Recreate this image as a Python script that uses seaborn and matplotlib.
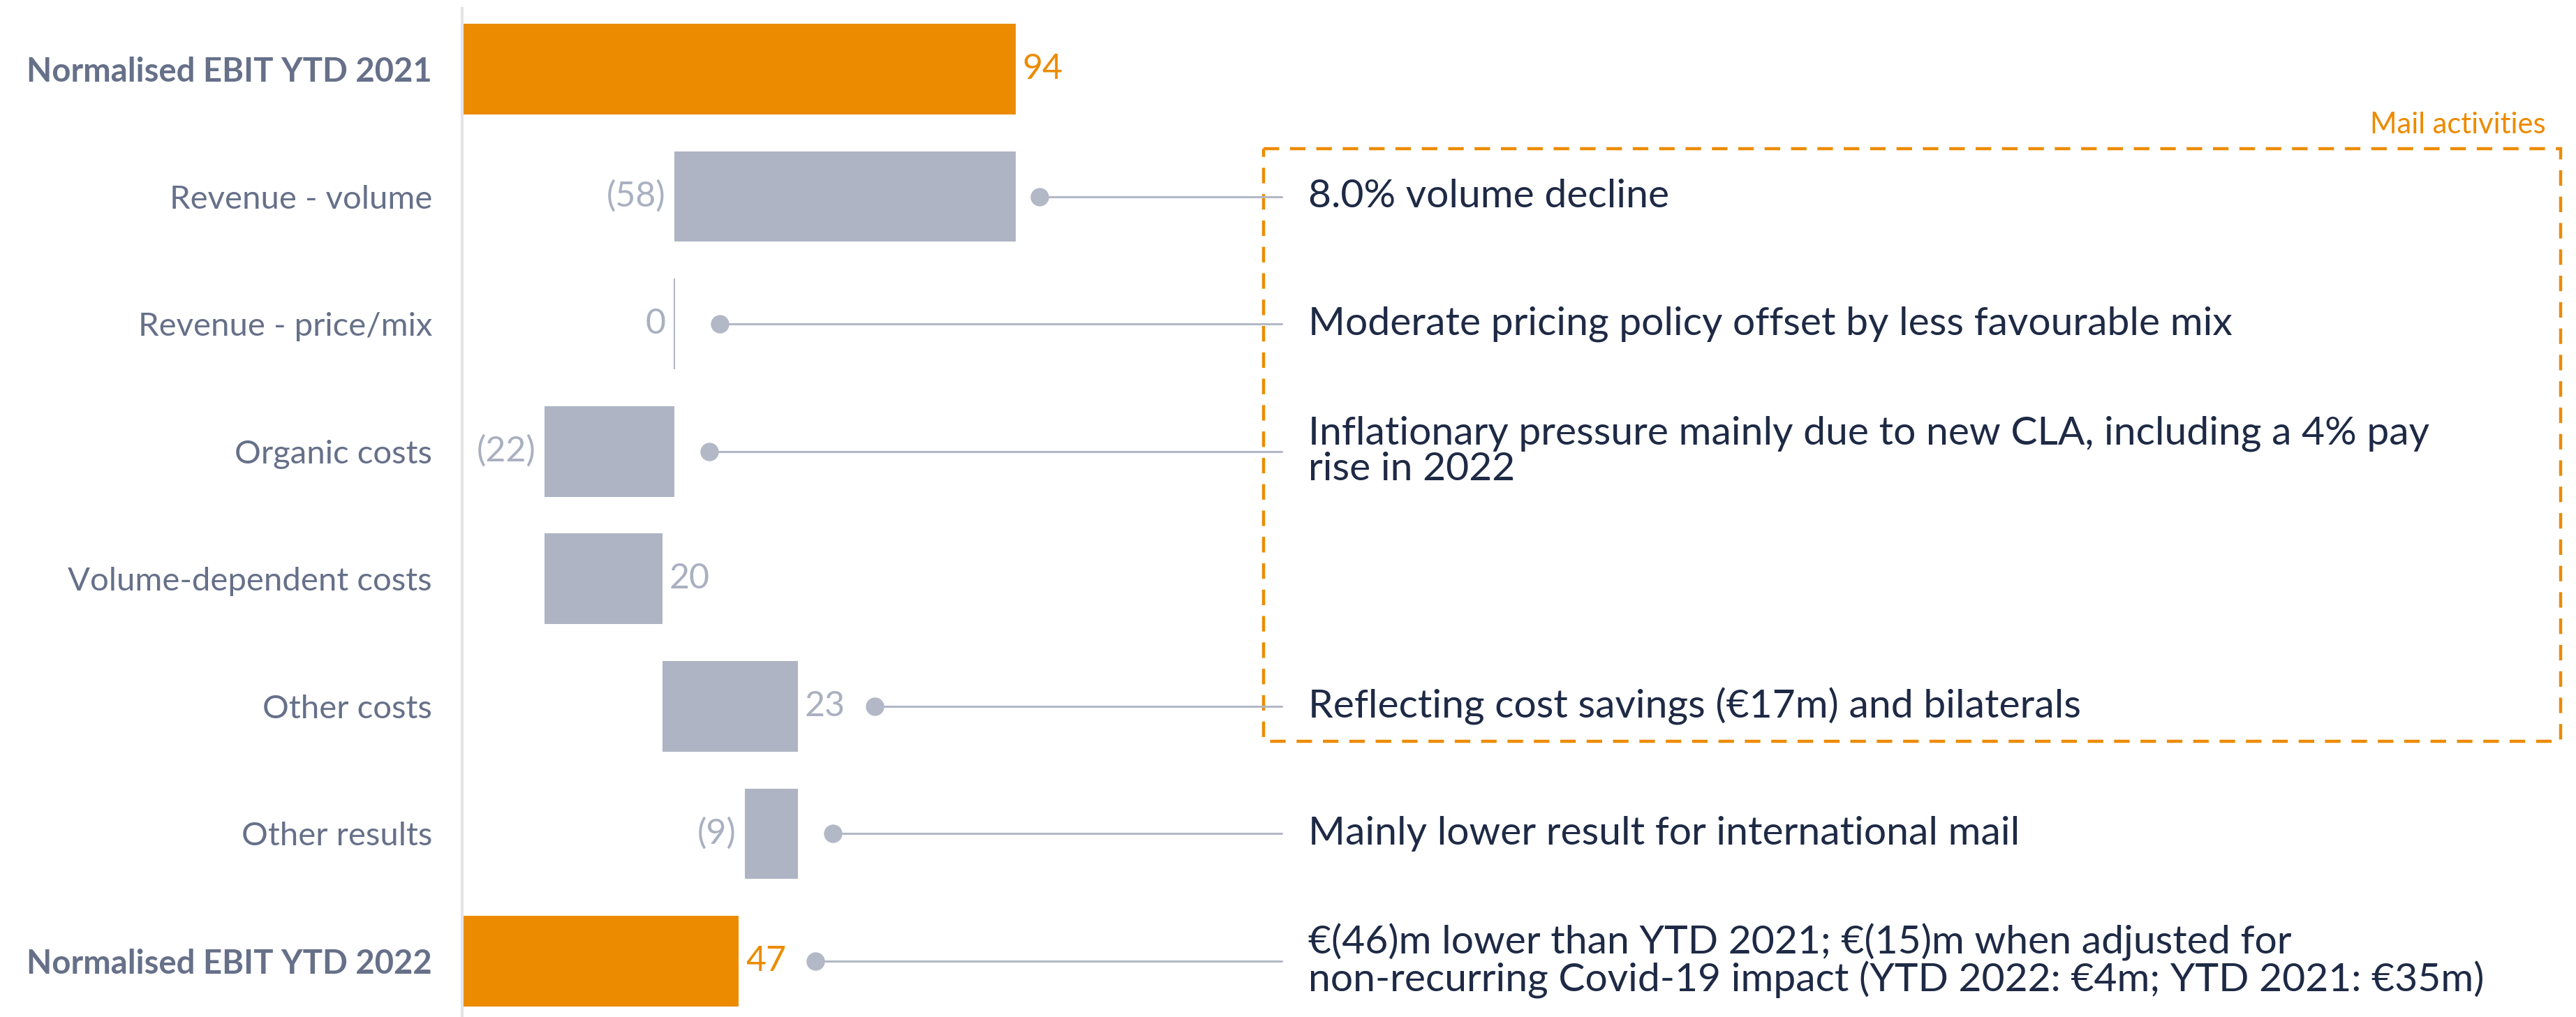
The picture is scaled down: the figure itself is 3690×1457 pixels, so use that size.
import matplotlib
matplotlib.use("Agg")
import matplotlib.pyplot as plt
from matplotlib.patches import Rectangle
import seaborn as sns
import pandas as pd
import numpy as np

# Data (EUR m)
categories = ["Normalised EBIT YTD 2021", "Revenue - volume", "Revenue - price/mix",
              "Organic costs", "Volume-dependent costs", "Other costs",
              "Other results", "Normalised EBIT YTD 2022"]
values = [94, -58, 0, -22, 20, 23, -9, 47]
is_total = [True, False, False, False, False, False, False, True]
value_labels = ["94", "(58)", "0", "(22)", "20", "23", "(9)", "47"]
notes = [None,
         "8.0% volume decline",
         "Moderate pricing policy offset by less favourable mix",
         "Inflationary pressure mainly due to new CLA, including a 4% pay\nrise in 2022",
         None,
         "Reflecting cost savings (\u20ac17m) and bilaterals",
         "Mainly lower result for international mail",
         "\u20ac(46)m lower than YTD 2021; \u20ac(15)m when adjusted for\nnon-recurring Covid-19 impact (YTD 2022: \u20ac4m; YTD 2021: \u20ac35m)"]
box_label = "Mail activities"

orange = "#EC8B00"
bar_grey = "#AEB4C3"
label_grey = "#A9B0C0"
line_grey = "#B2B8C6"
cat_color = "#667089"
note_color = "#1E2A45"

# waterfall: start/end of every bar
lefts, widths = [], []
running = 0
for v, tot in zip(values, is_total):
    if tot:
        start, end = 0, v
        running = v
    else:
        start, end = running, running + v
        running = end
    lefts.append(min(start, end))
    widths.append(abs(end - start))
ends = [l + w for l, w in zip(lefts, widths)]

df = pd.DataFrame({"category": categories, "width": widths,
                   "kind": ["total" if t else "delta" for t in is_total]})

sns.set_theme(style="white")
plt.rcParams["font.family"] = ["Lato", "DejaVu Sans"]

fig = plt.figure(figsize=(36.91, 14.57), dpi=100)
ax = fig.add_axes([662 / 3691, 0, 1 - 662 / 3691, 1 - 12 / 1457])

sns.barplot(data=df, y="category", x="width", hue="kind",
            palette={"total": orange, "delta": bar_grey}, saturation=1,
            dodge=False, width=0.71, legend=False, ax=ax, orient="h")

# move the floating bars to their start position
for p in ax.patches:
    idx = int(round(p.get_y() + p.get_height() / 2))
    p.set_x(lefts[idx])
    p.set_linewidth(0)

# zero-change bar drawn as a thin line
for i, w in enumerate(widths):
    if w == 0:
        ax.vlines(lefts[i], i - 0.355, i + 0.355, color=line_grey, lw=1.5)

ax.set_xlim(0, (3691 - 662) / 8.436)
ax.set_ylim(7.438, -0.4765)
ax.set_xlabel("")
ax.set_ylabel("")
ax.set_xticks([])
for s in ["top", "right", "bottom"]:
    ax.spines[s].set_visible(False)
ax.spines["left"].set_color("#E4E4E7")
ax.spines["left"].set_linewidth(3)

ax.tick_params(axis="y", length=0, pad=31)
for i, lab in enumerate(ax.get_yticklabels()):
    lab.set_fontsize(34)
    lab.set_color(cat_color)
    if is_total[i]:
        lab.set_fontweight("bold")

note_x = 143.7
line_end = 139.2
for i, v in enumerate(values):
    col = orange if is_total[i] else label_grey
    if v < 0 or (v == 0 and not is_total[i]):
        ax.annotate(value_labels[i], (lefts[i], i), xytext=(-9, 0), textcoords="offset points",
                    ha="right", va="center", fontsize=36, color=col)
        dot_x = ends[i] + 6
    else:
        ax.annotate(value_labels[i], (ends[i], i), xytext=(7, 0), textcoords="offset points",
                    ha="left", va="center", fontsize=36, color=col)
        dot_x = ends[i] + 13
    if v == 0:
        dot_x = ends[i] + 7.8
    if i == 1:
        dot_x = ends[i] + 4
    if notes[i] is not None:
        ax.plot([dot_x, line_end], [i, i], color=line_grey, lw=2.2, zorder=2)
        ax.plot([dot_x], [i], "o", ms=19, color=line_grey, mec="none", zorder=3)
        ax.text(note_x, i, notes[i], ha="left", va="center", fontsize=41,
                color=note_color, linespacing=1.0)

# dashed box round the mail activities notes
box = Rectangle((136.1, 0.624), 356.3 - 136.1, 5.275 - 0.624, fill=False,
                edgecolor=orange, lw=3.2, linestyle=(0, (5, 3.5)), clip_on=False)
ax.add_patch(box)
ax.text(353.8, 0.504, box_label, ha="right", va="baseline", fontsize=30, color=orange)

fig.savefig("out.png", dpi=100)
